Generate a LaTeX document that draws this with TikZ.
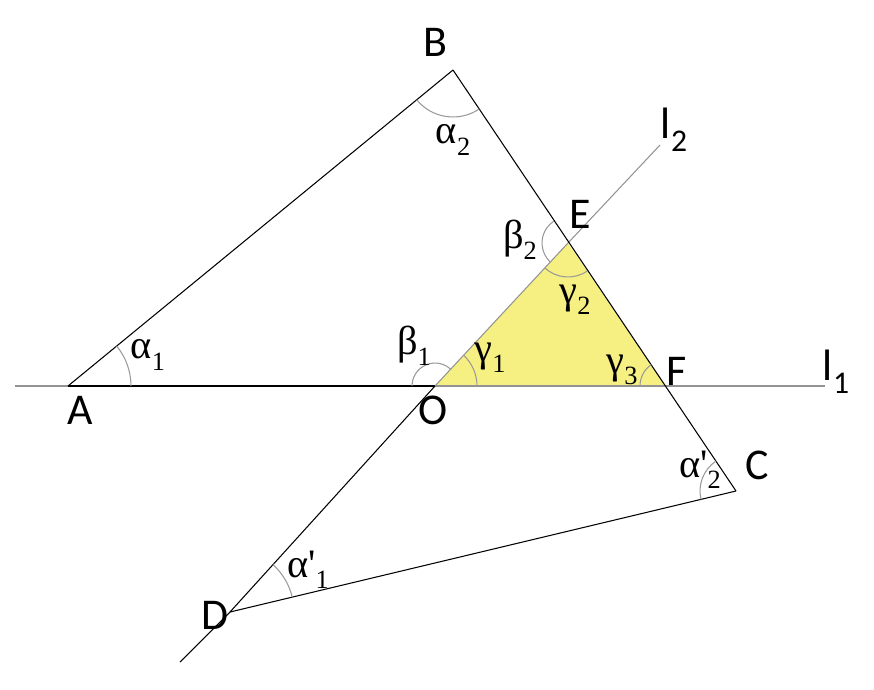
\documentclass[tikz,border=0pt]{standalone}
\usepackage{fontspec}
\setmainfont{Liberation Serif}
\newfontfamily\ptfont{Carlito}
\usetikzlibrary{angles}
\definecolor{triyellow}{RGB}{246,239,130}
\newcommand{\gsub}[2]{#1\raisebox{-0.28em}{\fontsize{15}{15}\selectfont #2}}
\newcommand{\lsub}[1]{{\ptfont l\raisebox{-0.3em}{\fontsize{18}{18}\selectfont #1}}}
\newcommand{\prm}{\textquotesingle}
\begin{document}
\begin{tikzpicture}[x=0.02cm,y=-0.02cm, line width=0.6pt,
  ptlabel/.style={font=\ptfont\fontsize{25}{25}\selectfont, inner sep=0pt},
  anglabel/.style={font=\fontsize{23}{23}\selectfont, inner sep=0pt},
  arcline/.style={draw=gray!80, line width=0.6pt},
  thin line/.style={draw=gray!85, line width=0.6pt}]
\useasboundingbox (0,0) rectangle (874,689);
% Punkte
\coordinate (A) at (68,386);
\coordinate (B) at (453,70);
\coordinate (C) at (736,491);
\coordinate (O) at (435,386);
\coordinate (D) at (230,612);
\coordinate (E) at (568,243);
\coordinate (F) at (666,386);
\coordinate (L1a) at (15,386);
\coordinate (L1b) at (825,386);
\coordinate (L2a) at (180,662);
\coordinate (L2b) at (660,145);
% Dreieck OEF
\fill [triyellow] (O) -- (E) -- (F) -- cycle;
% Geraden l1, l2
\path [thin line] (L1a) -- (A);
\draw (A) -- (O);
\path [thin line] (O) -- (F);
\path [thin line] (F) -- (L1b);
\draw (L2a) -- (D);
\draw (D) -- (O);
\path [thin line] (O) -- (E);
\path [thin line] (E) -- (L2b);
% Seiten
\draw (A) -- (B);
\draw (B) -- (C);
\draw (C) -- (D);
% Winkel
\path pic [arcline, angle radius=1.26cm] {angle = F--A--B};
\path pic [arcline, angle radius=0.94cm] {angle = A--B--C};
\path pic [arcline, angle radius=0.52cm] {angle = B--E--O};
\path pic [arcline, angle radius=0.68cm] {angle = O--E--F};
\path pic [arcline, angle radius=0.46cm] {angle = E--O--A};
\path pic [arcline, angle radius=0.84cm] {angle = F--O--E};
\path pic [arcline, angle radius=0.52cm] {angle = E--F--O};
\path pic [arcline, angle radius=0.72cm] {angle = B--C--D};
\path pic [arcline, angle radius=1.28cm] {angle = C--D--O};
% Beschriftungen
\node [ptlabel] (labA) at (80,410) {A};
\node [ptlabel] (labB) at (435,42) {B};
\node [ptlabel] (labC) at (757,465) {C};
\node [ptlabel] (labD) at (215,615) {D};
\node [ptlabel] (labE) at (580,214) {E};
\node [ptlabel] (labF) at (677,371) {F};
\node [ptlabel] (labO) at (433,410) {O};
\node [ptlabel] (labl1) at (836,372) {\lsub{1}};
\node [ptlabel] (labl2) at (674,130) {\lsub{2}};
\node [anglabel] (a1) at (148,355) {\gsub{α}{1}};
\node [anglabel] (a2) at (453,140) {\gsub{α}{2}};
\node [anglabel] (b1) at (414,346) {\gsub{β}{1}};
\node [anglabel] (b2) at (520,240) {\gsub{β}{2}};
\node [anglabel] (g1) at (490,358) {\gsub{γ}{1}};
\node [anglabel] (g2) at (575,300) {\gsub{γ}{2}};
\node [anglabel] (g3) at (622,370) {\gsub{γ}{3}};
\node [anglabel] (a2p) at (700,470) {\gsub{α\prm}{2}};
\node [anglabel] (a1p) at (308,570) {\gsub{α\prm}{1}};
\end{tikzpicture}
\end{document}
